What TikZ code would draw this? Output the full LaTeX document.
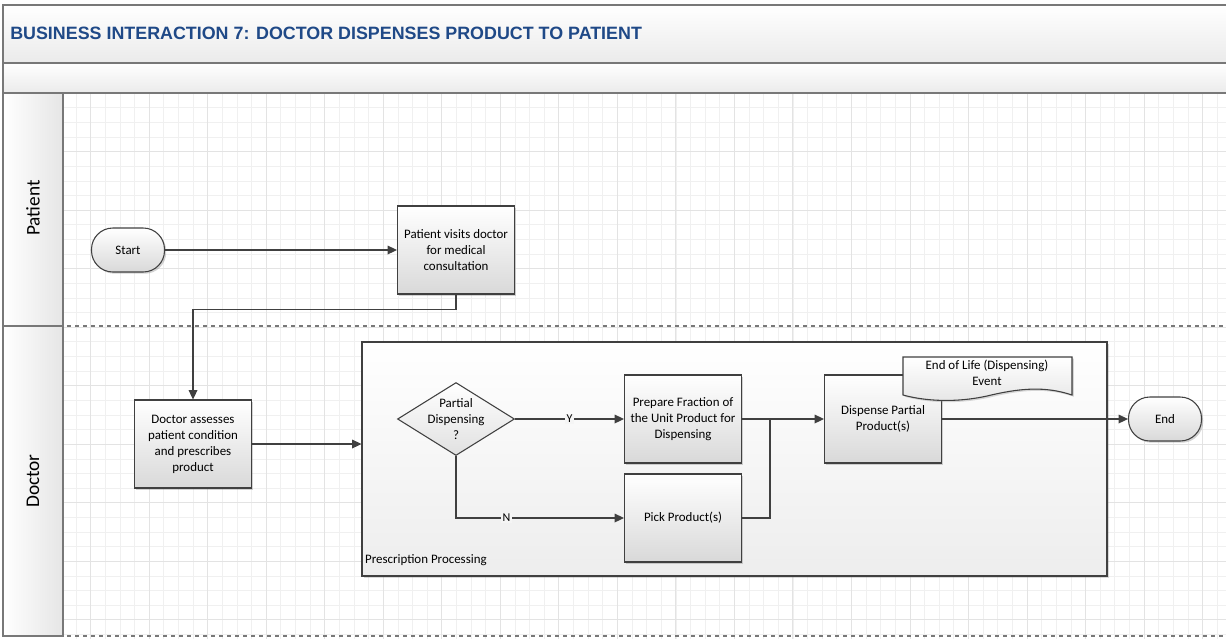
\documentclass[tikz,border=0pt]{standalone}
\usepackage{fontspec}
\setmainfont{Carlito}
\newfontfamily\titlefont{Liberation Sans}
\usetikzlibrary{arrows.meta,positioning,shapes.geometric,shadows,calc}
\definecolor{titleblue}{RGB}{31,73,135}
\definecolor{lineclr}{RGB}{64,64,64}
\definecolor{frameclr}{RGB}{120,120,120}

\begin{document}
\begin{tikzpicture}[
    x=0.75pt, y=-0.75pt,
    font=\fontsize{9.7}{12}\selectfont,
    gridminor/.style={draw=black!6, line width=0.6pt},
    gridmajor/.style={draw=black!11, line width=0.7pt},
    band/.style={draw=frameclr, line width=1pt, top color=white, bottom color=black!8},
    lanehead/.style={draw=frameclr, line width=1pt, left color=white, right color=black!10},
    lanesep/.style={draw=frameclr, line width=1pt, dashed},
    process/.style={rectangle, draw=lineclr, line width=0.8pt, minimum width=87.75pt,
                    minimum height=66pt, align=center, inner sep=2pt,
                    top color=white, bottom color=black!15,
                    drop shadow={shadow xshift=1.3pt, shadow yshift=-1.3pt, opacity=0.35}},
    terminal/.style={rectangle, rounded corners=16pt, draw=lineclr, line width=0.8pt,
                     minimum width=54.75pt, minimum height=33pt,
                     top color=white, bottom color=black!15,
                     drop shadow={shadow xshift=1.3pt, shadow yshift=-1.3pt, opacity=0.35}},
    decision/.style={diamond, draw=lineclr, line width=0.8pt, minimum width=87.75pt,
                     minimum height=54.75pt, shape aspect=1.6, inner sep=-2.5pt, align=center,
                     top color=white, bottom color=black!12},
    container/.style={rectangle, draw=lineclr, line width=0.8pt, minimum width=558.75pt,
                      minimum height=175.5pt, top color=white, bottom color=black!7,
                      drop shadow={shadow xshift=1.3pt, shadow yshift=-1.3pt, opacity=0.3}},
    yn/.style={fill=black!4, inner sep=1pt, font=\fontsize{9}{10}\selectfont},
    flow/.style={-{Triangle[length=7pt, width=6.5pt]}, draw=lineclr, line width=0.9pt},
    link/.style={draw=lineclr, line width=0.9pt}
  ]
  \useasboundingbox (0,0) rectangle (1226,639);

  % Grid
  \foreach \k in {0,...,78}
    \draw[gridminor] ({76.07+14.63*\k},93) -- ({76.07+14.63*\k},639);
  \foreach \j in {1,...,37}
    \draw[gridminor] (63,{93.18+14.63*\j}) -- (1226,{93.18+14.63*\j});
  \foreach \k in {0,...,19}
    \draw[gridmajor] ({90.7+58.52*\k},93) -- ({90.7+58.52*\k},639);
  \foreach \j in {0,...,8}
    \draw[gridmajor] (63,{151.7+58.52*\j}) -- (1226,{151.7+58.52*\j});

  % Header bands and lanes
  \fill[band] (3,5) rectangle (1232,63);
  \fill[band] (3,63) rectangle (1232,93);
  \draw[frameclr, line width=1pt] (3,5) -- (1232,5) (3,5) -- (3,326) (3,63) -- (1232,63) (3,93) -- (1232,93);
  \fill[lanehead] (3,93) rectangle (63,326);
  \fill[lanehead] (3,326) rectangle (63,636);
  \draw[frameclr, line width=1pt] (63,93) -- (63,636);
  \draw[lanesep] (3,326) -- (1226,326);
  \draw[lanesep] (3,636) -- (1226,636);
  \draw[lanesep] (3,326) -- (3,636);

  \node[anchor=west, inner sep=0pt, text=titleblue,
        font=\titlefont\bfseries\fontsize{13.4}{15}\selectfont] (title) at (10,33)
    {BUSINESS INTERACTION 7: DOCTOR DISPENSES PRODUCT TO PATIENT};
  \node[rotate=90, font=\fontsize{14.5}{16}\selectfont] (patientlane) at (33,208) {Patient};
  \node[rotate=90, font=\fontsize{14.5}{16}\selectfont] (doctorlane) at (33,481) {Doctor};

  % Patient lane
  \node[terminal] (start) at (128,250) {Start};
  \node[process] (visit) at (456,250) {Patient visits doctor\\for medical\\consultation};

  % Doctor lane
  \node[process] (assess) at (193,444) {Doctor assesses\\patient condition\\and prescribes\\product};
  \node[container] (prescr) at (734.5,459) {};
  \node[anchor=south west, inner sep=1pt] (prescrlabel) at ([shift={(2,-9)}]prescr.south west)
    {Prescription Processing};
  \node[decision] (partial) at (456,419) {Partial\\Dispensing\\?};
  \node[process] (prepare) at (683,419) {Prepare Fraction of\\the Unit Product for\\Dispensing};
  \node[process] (pick) at (683,518) {Pick Product(s)};
  \node[process] (dispense) at (883,419) {Dispense Partial\\Product(s)};
  \node[terminal] (finish) at (1165,419) {End};

  % Event document
  \filldraw[draw=lineclr, line width=0.8pt, top color=white, bottom color=black!10,
            drop shadow={shadow xshift=1.3pt, shadow yshift=-1.3pt, opacity=0.3}]
    (903,357) -- (1072,357) -- (1072,395)
    .. controls (1045,386) and (1020,388) .. (987,396)
    .. controls (955,403) and (925,401) .. (903,395) -- cycle;
  \node[align=center] (eolevent) at (987,373) {End of Life (Dispensing)\\Event};

  % Connectors
  \coordinate (merge) at (770,419);
  \draw[flow] (start) -- (visit);
  \draw[flow] (visit.south) -- ++(0,15) -| (assess.north);
  \draw[flow] (assess.east) -- (assess.east -| prescr.west);
  \draw[flow] (partial.east) -- node[yn] {Y} (prepare.west);
  \draw[flow] (partial.south) |- node[yn, pos=0.65] {N} (pick.west);
  \draw[link] (prepare.east) -- (merge);
  \draw[link] (pick.east) -| (merge);
  \draw[flow] (merge) -- (dispense.west);
  \draw[flow] (dispense.east) -- (finish.west);
\end{tikzpicture}
\end{document}
